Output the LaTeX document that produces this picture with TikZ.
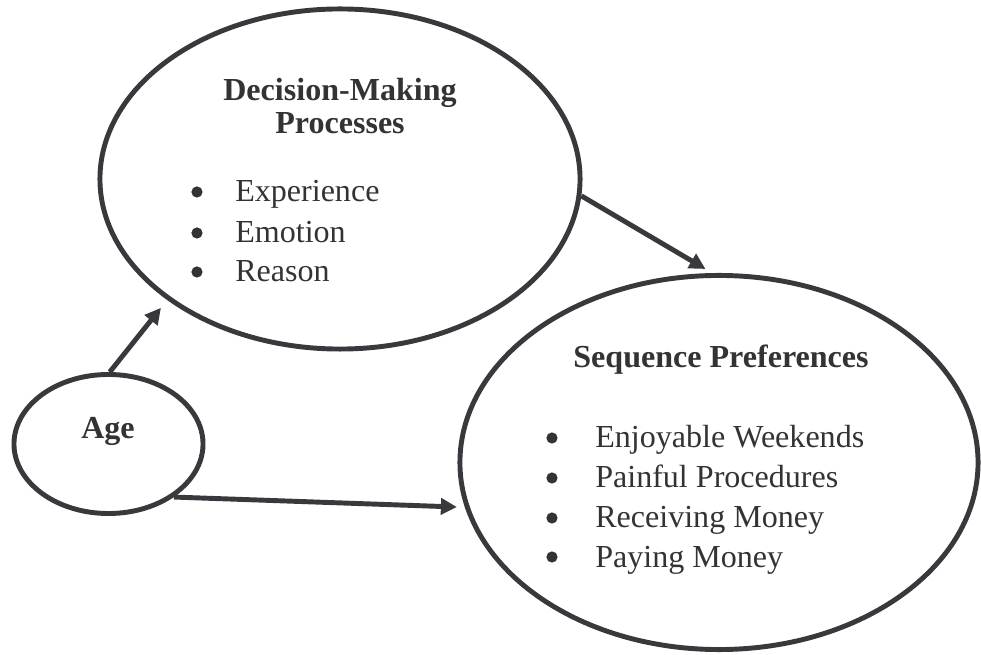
\documentclass[tikz,border=0pt]{standalone}
\usepackage{fontspec}
\setmainfont{Liberation Serif}
\usepackage{tikz}
\usepackage{xcolor}
\usetikzlibrary{shapes.geometric}
\usetikzlibrary{arrows.meta}

\definecolor{inkgray}{HTML}{3A383D}
\definecolor{textgray}{HTML}{333333}

\tikzset{
  bubble/.style={ellipse, draw=inkgray, line width=3.5pt, inner sep=0pt},
  title/.style={font=\fontsize{22.8}{27}\selectfont\bfseries, text=textgray, anchor=base, inner sep=0pt},
  item/.style={font=\fontsize{22.8}{27}\selectfont, text=textgray, anchor=base west, inner sep=0pt},
  link/.style={->, draw=inkgray, line width=3.5pt},
}

\begin{document}
\begin{tikzpicture}[x=0.025cm, y=-0.025cm, >={Triangle[length=0.4cm, width=0.4cm]}]
    % Page area, one unit per pixel of the sketch
    \useasboundingbox (0, 0) rectangle (981, 655);

    % The three ellipses
    \node[bubble, minimum width=12cm, minimum height=8.5cm] (dm) at (340, 179) {};
    \node[bubble, minimum width=4.725cm, minimum height=3.475cm] (age) at (108.5, 444) {};
    \node[bubble, minimum width=12.95cm, minimum height=9.35cm] (seq) at (719, 462.5) {};

    % Decision-making text
    \node[title] (dmtop) at (340, 101) {Decision-Making};
    \node[title] (dmbottom) at (340, 134) {Processes};
    \node[item] (exp) at (235, 202) {Experience};
    \node[item] (emo) at (235, 243) {Emotion};
    \node[item] (rea) at (235, 282) {Reason};

    % Age
    \node[title] (agetext) at (108, 439) {Age};

    % Sequence preferences text
    \node[title] (seqtitle) at (721, 368) {Sequence Preferences};
    \node[item] (wkd) at (595, 448) {Enjoyable Weekends};
    \node[item] (pain) at (595, 488) {Painful Procedures};
    \node[item] (recv) at (595, 528) {Receiving Money};
    \node[item] (pay) at (595, 567) {Paying Money};

    % Bullets in front of the list items
    \foreach \n in {exp, emo, rea}
        \fill[textgray] ([xshift=-0.95cm, yshift=0.25cm]\n.base west) circle (0.14cm);
    \foreach \n in {wkd, pain, recv, pay}
        \fill[textgray] ([xshift=-1.075cm, yshift=0.25cm]\n.base west) circle (0.14cm);

    % Arrows between the ellipses
    \draw[link, shorten >=0.25cm] (age.89) -- (dm.215);
    \draw[link, shorten >=0.2cm] (dm.-4) -- (seq.92);
    \draw[link, shorten >=0.2cm] (age.-39) -- (seq.190);
\end{tikzpicture}
\end{document}
